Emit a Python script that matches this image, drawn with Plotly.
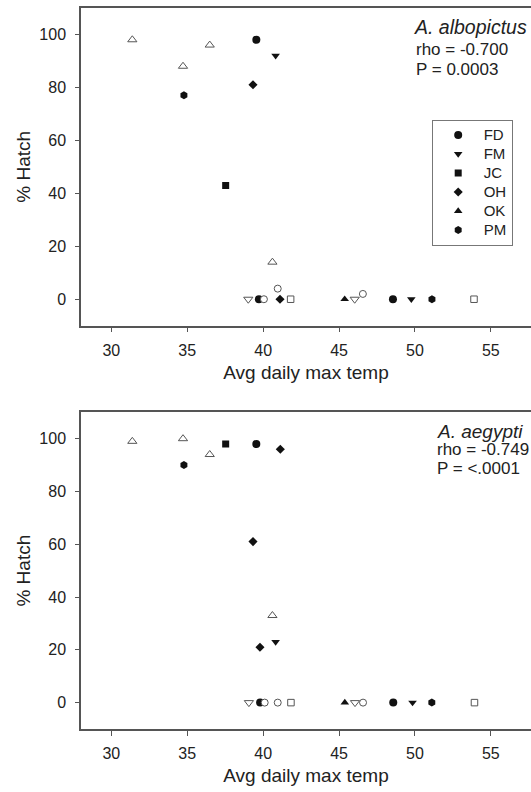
import plotly.graph_objects as go

# ---------------- data ----------------
sites = ["FD", "FM", "JC", "OH", "OK", "PM"]
site_symbols = ["circle", "triangle-down", "square", "diamond", "triangle-up", "hexagon"]
site_sizes = [8, 7.5, 7, 7, 7.5, 8]

# A. albopictus (top)  filled symbols, per site
alb_x = {
    "FD": [39.55, 39.72, 48.55],
    "FM": [40.82, 49.76],
    "JC": [37.53],
    "OH": [39.33, 41.11],
    "OK": [45.37],
    "PM": [34.78, 51.12],
}
alb_y = {
    "FD": [98, 0, 0],
    "FM": [92, 0],
    "JC": [43],
    "OH": [81, 0],
    "OK": [0],
    "PM": [77, 0],
}
# open symbols (not in legend)
alb_open_x = {
    "triangle-up": [31.38, 34.72, 36.48, 40.61],
    "circle": [40.96, 40.05, 46.57],
    "triangle-down": [39.02, 46.03],
    "square": [41.81, 53.89],
}
alb_open_y = {
    "triangle-up": [98, 88, 96, 14],
    "circle": [4, 0, 2],
    "triangle-down": [0, 0],
    "square": [0, 0],
}

# A. aegypti (bottom)
aeg_x = {
    "FD": [39.55, 39.8, 48.57],
    "FM": [40.82, 49.84],
    "JC": [37.53],
    "OH": [41.13, 39.33, 39.79],
    "OK": [45.38],
    "PM": [34.78, 51.11],
}
aeg_y = {
    "FD": [98, 0, 0],
    "FM": [23, 0],
    "JC": [98],
    "OH": [96, 61, 21],
    "OK": [0],
    "PM": [90, 0],
}
aeg_open_x = {
    "triangle-up": [31.38, 34.72, 36.48, 40.61],
    "circle": [40.1, 40.96, 46.58],
    "triangle-down": [39.06, 46.05],
    "square": [41.83, 53.92],
}
aeg_open_y = {
    "triangle-up": [99, 100, 94, 33],
    "circle": [0, 0, 0],
    "triangle-down": [0, 0],
    "square": [0, 0],
}
open_sizes = {"triangle-up": 8, "circle": 7, "triangle-down": 8, "square": 6.5}

x_ticks = [30, 35, 40, 45, 50, 55]
y_ticks = [0, 20, 40, 60, 80, 100]

# ---------------- figure ----------------
FONT = "Liberation Sans, Arial, sans-serif"
INK = "#222222"
AX = "#555555"

fig = go.Figure()

def add_panel(xd, yd, oxd, oyd, xa, ya, legend):
    for s, sym, sz in zip(sites, site_symbols, site_sizes):
        fig.add_trace(go.Scatter(
            x=xd[s], y=yd[s], mode="markers", xaxis=xa, yaxis=ya,
            name=f'<span style="font-size:15px">{s}</span>',
            legendgroup=s, showlegend=legend,
            marker=dict(symbol=sym, size=sz, color="#111111",
                        line=dict(width=0)),
        ))
    for sym in oxd:
        fig.add_trace(go.Scatter(
            x=oxd[sym], y=oyd[sym], mode="markers", xaxis=xa, yaxis=ya,
            showlegend=False,
            marker=dict(symbol=sym, size=open_sizes[sym], color="white",
                        line=dict(width=1, color="#555555")),
        ))

add_panel(alb_x, alb_y, alb_open_x, alb_open_y, "x", "y", True)
add_panel(aeg_x, aeg_y, aeg_open_x, aeg_open_y, "x2", "y2", False)

W, H = 531, 792
ML, MR, MT, MB = 81, 0, 8, 63
PW = W - ML - MR
PH = H - MT - MB

def yp(py):
    return (H - MB - py) / PH

def xp(px):
    return (px - ML) / PW

top_dom = [yp(325.7), 1.0]
bot_dom = [0.0, yp(412.3)]

x_range = [28, 28 + PW / 15.18]

xaxis_common = dict(
    range=x_range, tickvals=x_ticks, showgrid=False, zeroline=False,
    showline=True, linecolor=AX, linewidth=1.5, mirror=True,
    ticks="outside", ticklen=5, tickwidth=1.3, tickcolor=AX,
    tickfont=dict(family=FONT, size=16, color=INK),
    ticklabelstandoff=4,
    title=dict(text="Avg daily max temp", font=dict(family=FONT, size=19, color=INK),
               standoff=8),
)
yaxis_common = dict(
    range=[-10, 110], tickvals=y_ticks, showgrid=False, zeroline=False,
    showline=True, linecolor=AX, linewidth=1.5, mirror=False,
    ticks="outside", ticklen=4, tickwidth=1.3, tickcolor=AX,
    tickfont=dict(family=FONT, size=16, color=INK),
    ticklabelstandoff=6,
    title=dict(text="% Hatch", font=dict(family=FONT, size=19, color=INK),
               standoff=4),
)

fig.update_layout(
    width=W, height=H,
    margin=dict(l=ML, r=MR, t=MT, b=MB),
    paper_bgcolor="white", plot_bgcolor="white",
    font=dict(family=FONT, color=INK),
    xaxis=dict(**xaxis_common, anchor="y"),
    yaxis=dict(**yaxis_common, domain=top_dom, anchor="x"),
    xaxis2=dict(**xaxis_common, anchor="y2"),
    yaxis2=dict(**yaxis_common, domain=bot_dom, anchor="x2"),
    showlegend=True,
    legend=dict(
        x=xp(431.7), y=yp(119.5), xanchor="left", yanchor="top",
        bordercolor="#777777", borderwidth=1, bgcolor="white",
        font=dict(family=FONT, size=12, color=INK),
        itemwidth=41, tracegroupgap=0,
    ),
)

ann = [
    ("<i>A. albopictus</i>", 411.7, 27, 19.5),
    ("rho = -0.700", 414.3, 50, 17),
    ("P = 0.0003", 414.3, 70, 17),
    ("<i>A. aegypti</i>", 435, 431, 19),
    ("rho = -0.749", 435, 450, 17),
    ("P = <.0001", 435, 469, 17),
]
for t, px, py, fs in ann:
    fig.add_annotation(
        text=t, x=xp(px), y=yp(py), xref="paper", yref="paper",
        xanchor="left", yanchor="middle", showarrow=False,
        font=dict(family=FONT, size=fs, color=INK),
    )

fig.write_html(
    "out.html",
    config={"displayModeBar": False},
    post_script="document.body.style.margin='0';document.body.style.overflow='hidden';",
)
